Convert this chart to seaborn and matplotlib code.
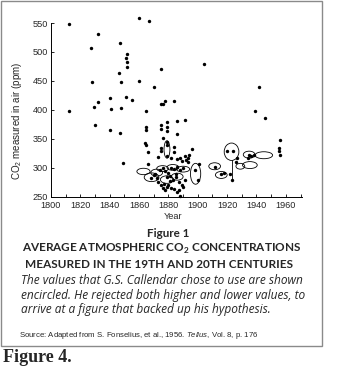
import matplotlib
matplotlib.use("Agg")
import matplotlib.pyplot as plt
from matplotlib.patches import Ellipse, Rectangle
from matplotlib.ticker import MultipleLocator
import seaborn as sns
import pandas as pd

# ---------------- data ----------------
years = [1812, 1812, 1827, 1828, 1832, 1832, 1829, 1830, 1840, 1841, 1840,
         1847, 1846, 1848, 1848, 1847, 1849, 1852, 1851, 1852, 1852, 1851,
         1855, 1860, 1860, 1867, 1870, 1875,
         1865, 1875, 1876, 1878, 1884,
         1865, 1865, 1875, 1875, 1879, 1879, 1879, 1886, 1891,
         1876, 1886,
         1864, 1865, 1866, 1875, 1875, 1879, 1879, 1879, 1884, 1884, 1896,
         1873, 1882, 1886, 1888, 1889, 1891, 1892, 1893, 1866, 1894, 1893,
         1870, 1872, 1874, 1876, 1878, 1880, 1882, 1884, 1886, 1888, 1890,
         1873, 1875, 1877, 1879, 1881, 1883, 1885, 1887, 1889, 1891,
         1876, 1878, 1880, 1882, 1884, 1886, 1888, 1890, 1887,
         1871, 1879, 1885, 1868, 1881,
         1904, 1942, 1939, 1946,
         1956, 1955, 1955, 1956,
         1901, 1900, 1920, 1924, 1927, 1923, 1918, 1922, 1926,
         1935, 1938, 1934, 1936, 1912, 1916, 1898]
ppm = [548, 398, 507, 449, 531, 414, 405, 374, 420, 402, 366,
       515, 464, 448, 403, 361, 309, 497, 490, 482, 474, 422,
       417, 559, 450, 554, 439, 470,
       399, 410, 410, 416, 415,
       370, 365, 374, 368, 380, 371, 363, 381, 382,
       352, 358,
       343, 339, 328, 334, 330, 345, 339, 320, 336, 328, 332,
       319, 318, 316, 318, 312, 320, 314, 310, 307, 323, 318,
       288, 283, 296, 300, 295, 292, 300, 298, 302, 296, 300,
       275, 270, 273, 268, 278, 280, 285, 275, 270, 280,
       265, 262, 270, 266, 264, 258, 252, 268, 262,
       290, 285, 290, 283, 286,
       480, 439, 398, 387,
       348, 335, 329, 323,
       307, 279, 329, 329, 318, 280, 292, 289, 310,
       322, 323, 318, 320, 302, 290, 296]

# values Callendar encircled (centres of his loops)
loop_year = [1863, 1868.5, 1876, 1883, 1890, 1879, 1879, 1898.5, 1911.5,
             1916, 1923, 1929, 1935, 1945, 1935.5, 1872, 1886]
loop_ppm = [294, 284, 299, 301, 298, 332, 280, 290, 303,
            288, 328, 303, 323, 322, 305, 292, 285]

# ---------------- styles / sizes ----------------
loop_w = [9, 10, 8, 8, 9, 4, 9, 7, 8, 8, 10, 6, 8, 12, 10, 8, 8]
loop_h = [11, 15, 10, 10, 10, 30, 13, 36, 12, 12, 30, 10, 12, 12, 12, 12, 12]

sns.set_theme(style="white")
plt.rcParams["font.family"] = ["Liberation Sans", "DejaVu Sans"]
plt.rcParams["mathtext.fontset"] = "custom"
plt.rcParams["mathtext.rm"] = "Liberation Sans"
plt.rcParams["mathtext.it"] = "Liberation Sans:italic"
plt.rcParams["mathtext.bf"] = "Lato:bold"

fig = plt.figure(figsize=(3.41, 3.74), dpi=100)
fig.patch.set_facecolor("white")
ax = fig.add_axes([0.1496, 0.4733, 0.736, 0.4652])

df = pd.DataFrame({"year": years, "ppm": ppm})
sns.scatterplot(data=df, x="year", y="ppm", ax=ax, color="black", s=6,
                linewidth=0, clip_on=False, zorder=3)

for yx, yp, w, h in zip(loop_year, loop_ppm, loop_w, loop_h):
    ax.add_patch(Ellipse((yx, yp), w, h, fill=False, edgecolor="black",
                         linewidth=0.6, zorder=2))
# stem of the big loop
ax.plot([1923, 1923], [313, 281], color="black", lw=0.6, zorder=2)

ax.set_xlim(1800, 1971)
ax.set_ylim(250, 550)
ax.xaxis.set_major_locator(MultipleLocator(20))
ax.xaxis.set_minor_locator(MultipleLocator(10))
ax.yaxis.set_major_locator(MultipleLocator(50))
ax.tick_params(axis="both", which="both", direction="in", length=2.2,
               width=0.6, color="black", labelsize=6.6,
               bottom=True, left=True)
ax.tick_params(axis="x", pad=3)
ax.tick_params(axis="y", pad=2)
ax.set_xlabel("")
ax.set_ylabel("")
for s in ["top", "right"]:
    ax.spines[s].set_visible(False)
for s in ["left", "bottom"]:
    ax.spines[s].set_color("black")
    ax.spines[s].set_linewidth(0.7)
ax.set_facecolor("white")

fig.text(0.507, 0.420, "Year", ha="center", va="center", fontsize=6.6)
fig.text(0.05, 0.676, "CO$_2$ measured in air (ppm)", ha="center",
         va="center", rotation=90, fontsize=7.0)

fig.text(0.494, 0.377, "Figure 1", ha="center", va="center",
         fontsize=8.4, family="Lato", weight="bold")
fig.text(0.474, 0.334, r"AVERAGE ATMOSPHERIC CO$_\mathbf{2}$ CONCENTRATIONS",
         ha="center", va="center", fontsize=8.5, family="Lato", weight="bold")
fig.text(0.467, 0.294, "MEASURED IN THE 19TH AND 20TH CENTURIES",
         ha="center", va="center", fontsize=8.5, family="Lato", weight="bold")
caption = ["The values that G.S. Callendar chose to use are shown",
           "encircled. He rejected both higher and lower values, to",
           "arrive at a figure that backed up his hypothesis."]
for yy, line in zip([0.251, 0.211, 0.172], caption):
    fig.text(0.062, yy, line, ha="left", va="center", fontsize=8.6,
             family="Open Sans", style="italic")
fig.text(0.056, 0.104,
         r"Source: Adapted from S. Fonselius, et al., 1956. $\it{Tellus}$, Vol. 8, p. 176",
         ha="left", va="center", fontsize=5.6)

fig.patches.append(Rectangle((0.003, 0.075), 0.941, 0.922, transform=fig.transFigure,
                             fill=False, edgecolor="#8a8a8a", linewidth=1.0))
fig.text(0.009, 0.043, "Figure 4.", ha="left", va="center", fontsize=13,
         family="Liberation Serif", weight="bold")

fig.savefig("out.png", dpi=100, facecolor="white")
